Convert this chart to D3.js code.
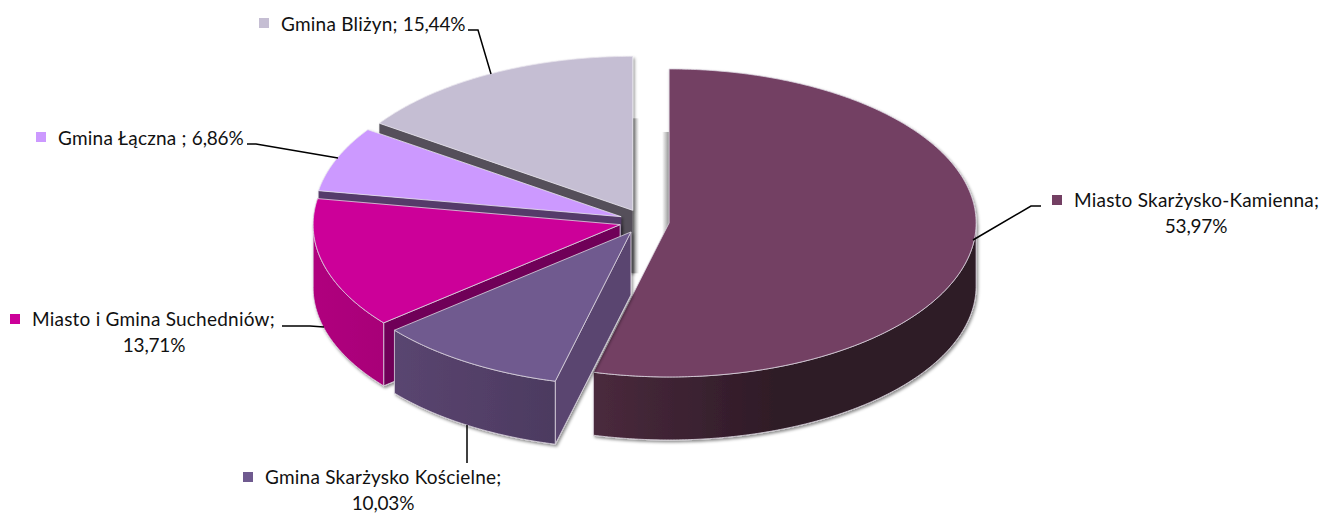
<!DOCTYPE html>
<html><head><meta charset="utf-8">
<script src="https://cdn.jsdelivr.net/npm/d3@7"></script>
<style>html,body{margin:0;padding:0;background:#fff}svg{display:block}text{font-family:Lato,"Open Sans",sans-serif;font-size:19px;letter-spacing:0.22px;fill:#111}tspan.v{letter-spacing:-0.2px}</style>
</head><body><div id="c"></div>
<script>
const categories = ["Miasto Skarżysko-Kamienna","Gmina Skarżysko Kościelne","Miasto i Gmina Suchedniów","Gmina Łączna ","Gmina Bliżyn"];
const values = [53.97,10.03,13.71,6.86,15.44];
const topColors = ["#733f63","#6f5a8f","#cc0099","#cc99ff","#c5bed3"];
const wallColors = ["#4a2a3d","#5a4570","#b0007e","#553a6a","#55505a"];
const wallEndColors = ["#2f1b27","#4c3a60","#a80078","#553a6a","#55505a"];
const cutColors = ["#2f1b27","#5a4570","#6f0058","#553a6a","#55505a"];
const drawOrder = [4,3,2,0,1];

const W=1320,H=513, cx=644.3, cy=221.4, rx=307, ry=154, explode=25, depth=63;
const fmt = v => v.toFixed(2).replace(".",",")+"%";
const svg = d3.select("#c").append("svg").attr("width",W).attr("height",H);
const defs = svg.append("defs");
const f = defs.append("filter").attr("id","sh").attr("x","-10%").attr("y","-10%").attr("width","120%").attr("height","120%");
f.append("feDropShadow").attr("dx",1.5).attr("dy",2).attr("stdDeviation",1.6).attr("flood-color","#000").attr("flood-opacity",0.45);
[["bandR",0,0.95],["bandL",0.95,0]].forEach(([id,o0,o1])=>{
  const lg=defs.append("linearGradient").attr("id",id);
  lg.append("stop").attr("offset",0).attr("stop-color","#8f8f8f").attr("stop-opacity",o1===0?o0:o0);
  lg.append("stop").attr("offset",1).attr("stop-color","#8f8f8f").attr("stop-opacity",o1);
});

const sx = d3.scaleLinear().domain([-1,1]).range([-rx,rx]);
const sy = d3.scaleLinear().domain([-1,1]).range([-ry,ry]);
const arcs = d3.pie().sort(null).value(d=>d)(values);
const line = d3.line();
const samples = (a,b) => { const n=Math.max(2,Math.ceil(Math.abs(b-a)/0.01)); return d3.range(n+1).map(i=>a+(b-a)*i/n); };

drawOrder.forEach(i=>{
  const d=arcs[i], mid=(d.startAngle+d.endAngle)/2;
  const ox=cx+explode*Math.sin(mid), oy=cy-explode*0.5*Math.cos(mid);
  const P=(a,z=0)=>[ox+sx(Math.sin(a)), oy+sy(-Math.cos(a))+z];
  const O=(z=0)=>[ox,oy+z];
  // soft grey bands beside the slices' vertical cut faces, across the gap
  if(i===4) svg.append("rect").attr("x",ox).attr("y",oy-92).attr("width",6.5).attr("height",92+depth).attr("fill","url(#bandL)");
  if(i===0) svg.append("rect").attr("x",ox-7).attr("y",oy-91).attr("width",7).attr("height",91+depth/4).attr("fill","url(#bandR)");
  const g=svg.append("g").attr("filter","url(#sh)");
  const strokeC="#dcd6e0";
  // radial walls: only those facing the viewer
  if(Math.sin(d.startAngle)<-1e-6){
    const a=d.startAngle;
    g.append("path").attr("d",line([O(),P(a),P(a,depth),O(depth)])+"Z")
     .attr("fill",cutColors[i]).attr("stroke",i<3?strokeC:"none").attr("stroke-width",0.8);
  }
  // outer wall (only the front half of the ellipse is seen)
  const a0=Math.max(d.startAngle,Math.PI/2), a1=Math.min(d.endAngle,3*Math.PI/2);
  if(a1>a0){
    const pts=samples(a0,a1);
    const xs=pts.map(a=>P(a)[0]);
    const gid="w"+i;
    const lg=defs.append("linearGradient").attr("id",gid).attr("gradientUnits","userSpaceOnUse")
      .attr("x1",d3.min(xs)).attr("x2",i==0?d3.min(xs)+180:d3.max(xs)).attr("y1",0).attr("y2",0);
    lg.append("stop").attr("offset",0).attr("stop-color",wallColors[i]);
    lg.append("stop").attr("offset",1).attr("stop-color",wallEndColors[i]);
    g.append("path").attr("d",line(pts.map(a=>P(a)).concat(pts.slice().reverse().map(a=>P(a,depth))))+"Z")
      .attr("fill",`url(#${gid})`).attr("stroke",strokeC).attr("stroke-width",0.8);
  }
  // top face
  g.append("path").attr("d",line([O()].concat(samples(d.startAngle,d.endAngle).map(a=>P(a))))+"Z")
    .attr("fill",topColors[i]).attr("stroke",i<3?strokeC:"#e8e4ee").attr("stroke-width",0.8);
});

// leaders and labels
const leaders=[
 [[1041,206],[1031,206],[973,240]],
 [[467,463],[467,425]],
 [[282,326],[310,326],[324,327]],
 [[247,144],[256,144],[338,158]],
 [[468,30],[478,30],[491,74]]
];
const layout=[
 {kx:1052,ky:195,tx:1074,ty:207,cx2:1196,ty2:233},
 {kx:243,ky:472,tx:265,ty:484,cx2:383,ty2:510},
 {kx:10,ky:314,tx:32,ty:326,cx2:154,ty2:352},
 {kx:36,ky:132,tx:58,ty:145},
 {kx:259,ky:18,tx:281,ty:31}
];
leaders.forEach(l=>svg.append("path").attr("d",line(l)).attr("fill","none").attr("stroke","#000").attr("stroke-width",1.5));
categories.forEach((c,i)=>{
  const L=layout[i];
  svg.append("rect").attr("x",L.kx).attr("y",L.ky).attr("width",10).attr("height",10).attr("fill",topColors[i]);
  if(L.cx2!==undefined){
    svg.append("text").attr("x",L.tx).attr("y",L.ty).text(c+";");
    svg.append("text").attr("x",L.cx2).attr("y",L.ty2).attr("text-anchor","middle").append("tspan").attr("class","v").text(fmt(values[i]));
  } else {
    const t=svg.append("text").attr("x",L.tx).attr("y",L.ty);
    t.append("tspan").text(c+"; ");
    t.append("tspan").attr("class","v").text(fmt(values[i]));
  }
});
</script></body></html>
